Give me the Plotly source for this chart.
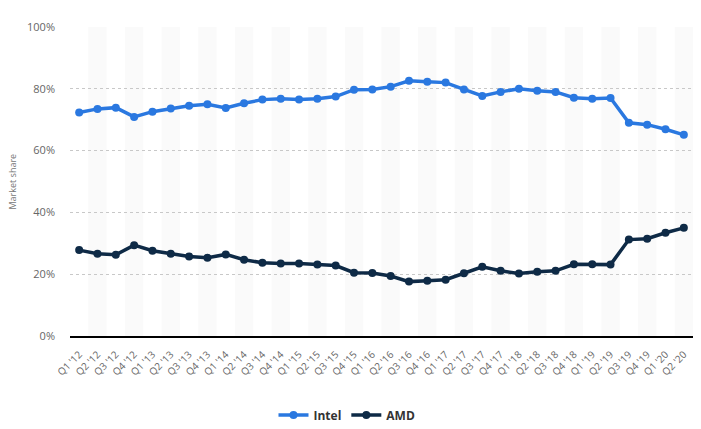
import plotly.graph_objects as go

quarters = ["Q1 '12", "Q2 '12", "Q3 '12", "Q4 '12",
            "Q1 '13", "Q2 '13", "Q3 '13", "Q4 '13",
            "Q1 '14", "Q2 '14", "Q3 '14", "Q4 '14",
            "Q1 '15", "Q2 '15", "Q3 '15", "Q4 '15",
            "Q1 '16", "Q2 '16", "Q3 '16", "Q4 '16",
            "Q1 '17", "Q2 '17", "Q3 '17", "Q4 '17",
            "Q1 '18", "Q2 '18", "Q3 '18", "Q4 '18",
            "Q1 '19", "Q2 '19", "Q3 '19", "Q4 '19",
            "Q1 '20", "Q2 '20"]

intel = [72.3, 73.5, 73.9, 70.9, 72.6, 73.6, 74.5, 75.0, 73.8, 75.3, 76.5, 76.8,
         76.5, 76.8, 77.5, 79.7, 79.8, 80.7, 82.6, 82.3, 82.0, 79.8, 77.7, 79.0,
         80.0, 79.4, 79.0, 77.1, 76.8, 77.0, 69.0, 68.4, 66.9, 65.1]

amd = [27.8, 26.6, 26.3, 29.4, 27.6, 26.6, 25.7, 25.3, 26.4, 24.7, 23.7, 23.5,
       23.5, 23.1, 22.8, 20.5, 20.4, 19.4, 17.6, 17.9, 18.2, 20.3, 22.4, 21.1,
       20.2, 20.8, 21.1, 23.2, 23.2, 23.1, 31.2, 31.5, 33.4, 35.0]

y_ticks = [0, 20, 40, 60, 80, 100]
y_labels = ["0%", "20%", "40%", "60%", "80%", "100%"]

fig = go.Figure()

# alternating background bands
shapes = []
for i in range(len(quarters)):
    if i % 2 == 1:
        shapes.append(dict(type="rect", xref="x", yref="paper",
                           x0=i - 0.5, x1=i + 0.5, y0=0, y1=1,
                           fillcolor="#fafafa", line=dict(width=0), layer="below"))

fig.add_trace(go.Scatter(x=quarters, y=intel, name="Intel", mode="lines+markers",
                         line=dict(color="#2a78e0", width=3.5),
                         marker=dict(size=8, color="#2a78e0")))
fig.add_trace(go.Scatter(x=quarters, y=amd, name="AMD", mode="lines+markers",
                         line=dict(color="#0e2a46", width=3.5),
                         marker=dict(size=8, color="#0e2a46")))

fig.update_layout(
    width=701, height=429,
    margin=dict(l=70, r=8, t=27, b=93, autoexpand=False),
    plot_bgcolor="white", paper_bgcolor="white",
    shapes=shapes,
    font=dict(family="Open Sans, Roboto, sans-serif", color="#666"),
    showlegend=True,
    legend=dict(orientation="h", xref="container", x=0.495, xanchor="center",
                yref="container", y=1 - 415 / 429, yanchor="middle",
                font=dict(size=12, color="#333", family="Open Sans, sans-serif",
                          weight="bold"),
                itemwidth=30, tracegroupgap=0),
    hovermode=False,
    annotations=[dict(text="Market share", xref="paper", yref="paper",
                      x=(12 - 70) / 623, y=0.5, xanchor="center", yanchor="middle",
                      textangle=-90, showarrow=False,
                      font=dict(size=9, color="#777"))],
)

fig.update_xaxes(type="category", range=[-0.5, len(quarters) - 0.5],
                 tickangle=-45, tickfont=dict(size=10, color="#666"),
                 showgrid=False, showline=True, linecolor="#000", linewidth=1.5,
                 ticks="", ticklabelstandoff=7, fixedrange=True, automargin=False)
fig.update_yaxes(range=[0, 100], tickvals=y_ticks, ticktext=y_labels,
                 tickfont=dict(size=11, color="#666"),
                 showgrid=True, gridcolor="#c8c8c8", griddash="dot", gridwidth=1,
                 zeroline=False, showline=False, ticks="", ticklabelstandoff=14,
                 fixedrange=True, automargin=False)

fig.write_html("out.html", config={"displayModeBar": False},
               post_script="document.body.style.margin='0';document.body.style.overflow='hidden';")
